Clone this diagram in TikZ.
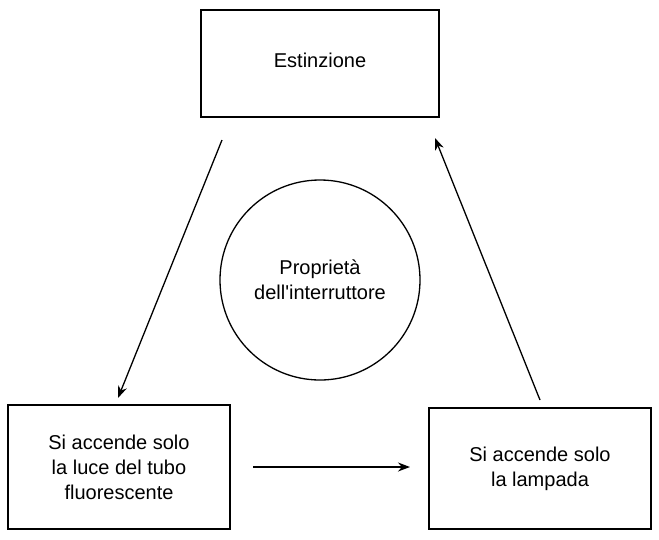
\documentclass[tikz,border=0pt]{standalone}
\usepackage{fontspec}
\setmainfont{Liberation Sans}
\usetikzlibrary{arrows.meta}
\begin{document}
\begin{tikzpicture}[x=1pt,y=-1pt,
  box/.style={draw,line width=1.3pt,inner sep=0pt,font=\fontsize{20}{25}\selectfont,align=center},
  arr/.style={line width=1.3pt,-{Stealth[length=12pt,width=9pt]}}]
\useasboundingbox (0,0) rectangle (659,539);
\node[box,minimum width=238pt,minimum height=107pt] (top) at (320,63.5) {\raisebox{6pt}{Estinzione}};
\node[box,minimum width=222pt,minimum height=124pt] (left) at (119,467) {Si accende solo\\la luce del tubo\\fluorescente};
\node[box,minimum width=222pt,minimum height=121pt] (right) at (540,468.5) {Si accende solo\\la lampada};
\node[draw,circle,line width=1.3pt,minimum size=200pt,font=\fontsize{20}{25}\selectfont,align=center] (c) at (320,280) {Proprietà\\dell\textquotesingle interruttore};
\coordinate (a1) at (222,140); \coordinate (a2) at (118,398);
\coordinate (b1) at (540,400); \coordinate (b2) at (435,138);
\coordinate (h1) at (253,467); \coordinate (h2) at (410,467);
\draw[arr] (a1) -- (a2);
\draw[arr] (b1) -- (b2);
\draw[arr] (h1) -- (h2);
\end{tikzpicture}
\end{document}
